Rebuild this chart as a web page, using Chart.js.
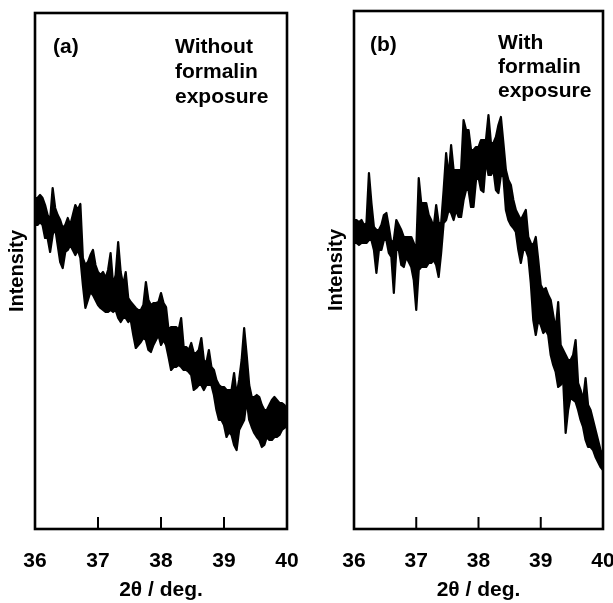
<!DOCTYPE html>
<html lang="en">
<head>
<meta charset="UTF-8">
<title>XRD patterns – formalin exposure</title>
<script src="https://cdn.jsdelivr.net/npm/chart.js"></script>
<style>
  *{box-sizing:border-box;margin:0;padding:0}
  body{width:613px;height:603px;background:#fff;position:relative;overflow:hidden;
       font-family:'Liberation Sans',Arial,sans-serif;color:#000}
  .panel{position:absolute;top:0}
  #wrapA{left:0}
  #wrapB{left:319px}
  .lbl{position:absolute;font-weight:700;font-size:21px;line-height:25px;white-space:nowrap}
  #tagA{left:53px;top:33px}
  #noteA{left:175px;top:33px}
  #tagB{left:370px;top:31px}
  #noteB{left:498px;top:30px;line-height:24px}
</style>
</head>
<body>
  <div class="panel" id="wrapA"><canvas id="chartA" width="300" height="603"></canvas></div>
  <div class="panel" id="wrapB"><canvas id="chartB" width="294" height="603"></canvas></div>

  <div class="lbl" id="tagA">(a)</div>
  <div class="lbl" id="noteA">Without<br>formalin<br>exposure</div>
  <div class="lbl" id="tagB">(b)</div>
  <div class="lbl" id="noteB">With<br>formalin<br>exposure</div>

<script>
// 2θ step-scan grid (deg)
const twoTheta = [
  36.00,36.04,36.08,36.12,36.16,36.20,36.24,36.28,36.32,36.36,
  36.40,36.44,36.48,36.52,36.56,36.60,36.64,36.68,36.72,36.76,
  36.80,36.84,36.88,36.92,36.96,37.00,37.04,37.08,37.12,37.16,
  37.20,37.24,37.28,37.32,37.36,37.40,37.44,37.48,37.52,37.56,
  37.60,37.64,37.68,37.72,37.76,37.80,37.84,37.88,37.92,37.96,
  38.00,38.04,38.08,38.12,38.16,38.20,38.24,38.28,38.32,38.36,
  38.40,38.44,38.48,38.52,38.56,38.60,38.64,38.68,38.72,38.76,
  38.80,38.84,38.88,38.92,38.96,39.00,39.04,39.08,39.12,39.16,
  39.20,39.24,39.28,39.32,39.36,39.40,39.44,39.48,39.52,39.56,
  39.60,39.64,39.68,39.72,39.76,39.80,39.84,39.88,39.92,39.96,
  40.00
];

// (a) without formalin exposure: upper / lower edge of the noisy trace (arb. units)
const upperA = [
  331,331,334,331,324,314,309,341,321,314,
  309,301,304,311,304,314,324,319,325,271,
  264,267,274,279,264,257,254,257,251,259,
  276,244,254,287,257,244,257,231,227,224,
  221,219,219,224,247,229,224,226,226,227,
  236,226,222,199,202,202,202,199,211,182,
  182,179,186,176,176,179,191,169,166,179,
  162,159,149,144,142,142,139,139,139,156,
  134,149,169,201,174,144,132,132,134,132,
  124,119,119,124,129,132,129,126,126,124,
  119
];
const lowerA = [
  304,304,307,304,291,291,277,294,301,284,
  267,261,277,279,284,279,274,279,271,244,
  221,229,237,234,229,224,221,219,217,217,
  219,217,219,211,207,211,211,207,209,194,
  181,184,187,191,189,179,177,184,189,194,
  184,189,184,172,159,162,162,164,162,159,
  159,157,154,139,141,144,144,139,144,144,
  144,134,119,109,109,104,92,97,94,84,
  79,99,104,109,129,109,102,96,92,89,
  82,84,92,89,89,92,92,94,99,101,
  104
];

// (b) with formalin exposure: upper / lower edge of the noisy trace (arb. units)
const upperB = [
  309,309,307,309,304,306,356,326,302,299,
  299,304,314,316,302,286,289,309,304,299,
  292,292,292,292,286,279,351,326,326,326,
  314,309,302,324,306,306,339,376,352,384,
  359,359,359,359,409,399,399,379,379,382,
  382,389,389,389,414,386,386,392,404,412,
  386,359,349,344,329,319,314,309,314,319,
  292,286,284,292,269,244,239,241,234,229,
  214,199,227,184,179,174,169,169,174,189,
  146,139,129,151,124,119,109,99,89,79,
  74
];
const lowerB = [
  286,286,284,286,286,286,289,289,279,256,
  279,279,289,289,276,272,236,279,279,264,
  262,272,267,262,249,219,259,262,262,262,
  266,266,269,264,252,276,306,309,319,316,
  309,319,312,312,329,339,339,322,322,349,
  352,339,337,369,354,354,359,339,336,354,
  352,319,309,304,301,297,279,266,279,279,
  272,246,209,194,209,204,196,199,194,174,
  164,157,142,144,149,96,119,132,129,127,
  119,109,102,89,82,82,79,72,67,62,
  59
];

const xTicks = [36, 37, 38, 39, 40];
const innerTicks = [37, 38, 39];

// box frame + inward tick marks on the bottom edge
const framePlugin = {
  id: 'frame',
  afterDatasetsDraw(chart) {
    const {ctx, chartArea: a, scales: {x}} = chart;
    ctx.save();
    ctx.strokeStyle = '#000';
    ctx.lineWidth = 2.6;
    ctx.strokeRect(a.left, a.top, a.right - a.left, a.bottom - a.top);
    ctx.lineWidth = 2;
    innerTicks.forEach(v => {
      const px = x.getPixelForValue(v);
      ctx.beginPath();
      ctx.moveTo(px, a.bottom);
      ctx.lineTo(px, a.bottom - 12);
      ctx.stroke();
    });
    ctx.restore();
  }
};

function edge(values, fill) {
  return {
    data: twoTheta.map((t, i) => ({x: t, y: values[i]})),
    borderColor: '#000',
    backgroundColor: '#000',
    borderWidth: 2.2,
    borderJoinStyle: 'round',
    pointRadius: 0,
    tension: 0,
    fill: fill
  };
}

function makeChart(id, upper, lower, yMax, pad) {
  return new Chart(document.getElementById(id), {
    type: 'line',
    data: {datasets: [edge(upper, '+1'), edge(lower, false)]},
    options: {
      responsive: false,
      animation: false,
      events: [],
      layout: {autoPadding: false, padding: pad},
      plugins: {legend: {display: false}, tooltip: {enabled: false}},
      scales: {
        x: {
          type: 'linear', min: 36, max: 40,
          afterBuildTicks: s => { s.ticks = xTicks.map(v => ({value: v})); },
          afterFit: s => { s.height = 74; s.paddingLeft = 0; s.paddingRight = 0; },
          grid: {display: false, drawTicks: false},
          border: {display: false},
          ticks: {color: '#000', padding: 20, maxRotation: 0,
                  font: {family: 'Liberation Sans', size: 21, weight: 'bold'}},
          title: {display: true, text: '2θ / deg.', color: '#000',
                  padding: {top: 0, bottom: 0},
                  font: {family: 'Liberation Sans', size: 21, weight: 'bold'}}
        },
        y: {
          min: 0, max: yMax,
          afterFit: s => { s.width = 35; s.paddingTop = 0; s.paddingBottom = 0; },
          grid: {display: false, drawTicks: false},
          border: {display: false},
          ticks: {display: false},
          title: {display: true, text: 'Intensity', color: '#000',
                  padding: {top: 5, bottom: 0},
                  font: {family: 'Liberation Sans', size: 20, weight: 'bold'}}
        }
      }
    },
    plugins: [framePlugin]
  });
}

makeChart('chartA', upperA, lowerA, 516, {top: 13, right: 13, left: 0, bottom: 0});
makeChart('chartB', upperB, lowerB, 518, {top: 11, right: 10, left: 0, bottom: 0});
</script>
</body>
</html>
